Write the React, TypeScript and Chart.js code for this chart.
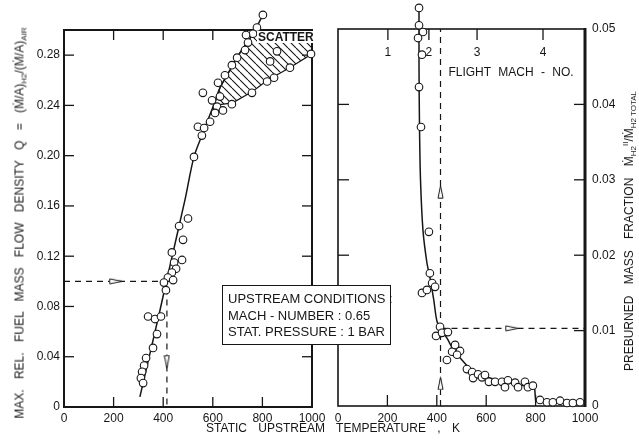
import React, { useEffect, useRef } from 'react';
import { Chart, registerables } from 'chart.js';

Chart.register(...registerables);

const FONT = '"Liberation Sans", Arial, sans-serif';
const INK = '#161616';

// ---- tick values / labels ----
const xTickValues = [0, 200, 400, 600, 800, 1000];
const xInnerTicks = [200, 400, 600, 800];
const leftYTickValues = [0, 0.04, 0.08, 0.12, 0.16, 0.2, 0.24, 0.28];
const leftYTickLabels = ['0', '0.04', '0.08', '0.12', '0.16', '0.20', '0.24', '0.28'];
const leftYInnerTicks = [0.04, 0.08, 0.12, 0.16, 0.2, 0.24, 0.28];
const leftYFrameMax = 0.3;
const rightYTickValues = [0, 0.01, 0.02, 0.03, 0.04, 0.05];
const rightYTickLabels = ['0', '0.01', '0.02', '0.03', '0.04', '0.05'];
const rightYInnerTicks = [0.01, 0.02, 0.03, 0.04];
const rightYFrameMax = 0.05;
const machTickTemps = [202, 368, 563, 830];
const machTickLabels = ['1', '2', '3', '4'];

// ---- left panel: max. rel. fuel mass flow density Q vs temperature ----
const leftPointsT = [802, 778, 762, 734, 742, 730, 859, 996, 698, 831, 911, 677, 649, 847, 819, 621, 758, 629, 560, 597, 677, 617, 641, 609, 589, 540, 565, 556, 524, 500, 464, 480, 435, 476, 444, 452, 435, 419, 440, 403, 411, 339, 367, 391, 375, 359, 331, 323, 315, 310, 319];
const leftPointsQ = [0.312, 0.302, 0.297, 0.296, 0.29, 0.284, 0.283, 0.281, 0.278, 0.275, 0.27, 0.272, 0.264, 0.262, 0.259, 0.258, 0.25, 0.247, 0.25, 0.244, 0.241, 0.239, 0.236, 0.234, 0.227, 0.223, 0.222, 0.216, 0.199, 0.15, 0.144, 0.133, 0.123, 0.117, 0.115, 0.11, 0.107, 0.103, 0.101, 0.099, 0.093, 0.072, 0.07, 0.072, 0.058, 0.047, 0.039, 0.033, 0.028, 0.023, 0.019];
const leftCurveT = [306, 387, 413, 488, 524, 560, 601, 629, 669, 710, 762, 802];
const leftCurveQ = [0.008, 0.077, 0.1, 0.165, 0.199, 0.218, 0.239, 0.254, 0.268, 0.282, 0.297, 0.312];
const scatterBandT = [605, 680, 760, 820, 910, 1000, 1000, 772, 762, 710, 669, 629, 605];
const scatterBandQ = [0.24, 0.242, 0.251, 0.26, 0.27, 0.281, 0.3, 0.3, 0.297, 0.282, 0.268, 0.254, 0.24];
const leftGuideT = [0, 415, 415];
const leftGuideQ = [0.1, 0.1, 0];
const leftArrowRightT = [209];
const leftArrowRightQ = [0.1];
const leftArrowDownT = [415];
const leftArrowDownQ = [0.036];

// ---- right panel: preburned mass fraction vs temperature ----
const rightPointsT = [328, 328, 344, 324, 340, 328, 336, 368, 372, 340, 360, 381, 393, 413, 397, 421, 445, 441, 462, 474, 494, 482, 522, 543, 547, 567, 583, 595, 611, 636, 664, 688, 676, 717, 729, 757, 769, 789, 818, 846, 870, 899, 927, 951, 980];
const rightPointsF = [0.0528, 0.0505, 0.0496, 0.0488, 0.0466, 0.0423, 0.037, 0.0231, 0.0176, 0.015, 0.0154, 0.0163, 0.0158, 0.0105, 0.0093, 0.0097, 0.0098, 0.0061, 0.0072, 0.0081, 0.0073, 0.0068, 0.0049, 0.0045, 0.0037, 0.0042, 0.0038, 0.0041, 0.0032, 0.0032, 0.0032, 0.0034, 0.0025, 0.0031, 0.0025, 0.0032, 0.0025, 0.0027, 0.0008, 0.0005, 0.0005, 0.0007, 0.0004, 0.0004, 0.0005];
const rightCurveT = [328, 328, 330, 334, 344, 360, 372, 388, 401, 420, 441, 465, 494, 547, 600, 656, 720, 796];
const rightCurveF = [0.0528, 0.045, 0.037, 0.03, 0.0233, 0.019, 0.0171, 0.014, 0.0112, 0.01, 0.009, 0.0076, 0.0064, 0.0046, 0.0039, 0.0034, 0.0029, 0.0024];
const rightTailT = [796, 800, 1000];
const rightTailF = [0.0024, 0.0008, 0.0007];
const rightGuideVT = [415, 415];
const rightGuideVF = [0, 0.05];
const rightGuideHT = [415, 1000];
const rightGuideHF = [0.0103, 0.0103];
const rightArrowUpT = [415, 415];
const rightArrowUpF = [0.0284, 0.003];
const rightArrowRightT = [704];
const rightArrowRightF = [0.0103];

const pts = (xs: number[], ys: number[]) => xs.map((x, i) => ({ x, y: ys[i] }));

function makeHatch(): HTMLCanvasElement {
  const s = 8;
  const c = document.createElement('canvas');
  c.width = s;
  c.height = s;
  const g = c.getContext('2d')!;
  g.strokeStyle = INK;
  g.lineWidth = 1.1;
  g.beginPath();
  for (const o of [-s, 0, s]) {
    g.moveTo(o, 0);
    g.lineTo(o + s, s);
  }
  g.stroke();
  return c;
}

function makeArrow(): HTMLCanvasElement {
  const c = document.createElement('canvas');
  c.width = 7;
  c.height = 14;
  const g = c.getContext('2d')!;
  g.beginPath();
  g.moveTo(3.5, 0.8);
  g.lineTo(6, 13.2);
  g.lineTo(1, 13.2);
  g.closePath();
  g.fillStyle = '#fff';
  g.fill();
  g.strokeStyle = INK;
  g.lineWidth = 1;
  g.stroke();
  return c;
}

const paperAxes = {
  id: 'paperAxes',
  beforeDatasetsDraw(chart: any, _args: any, opts: any) {
    const { ctx, chartArea } = chart;
    const { left, right, bottom } = chartArea;
    const xs = chart.scales.x;
    const ys = chart.scales.y;
    const top = ys.getPixelForValue(opts.frameMax);
    const L = opts.tickLen || 11;
    const line = (a: number, b: number, c: number, d: number) => {
      ctx.beginPath();
      ctx.moveTo(a, b);
      ctx.lineTo(c, d);
      ctx.stroke();
    };
    ctx.save();
    ctx.strokeStyle = INK;
    ctx.lineWidth = opts.frameWidth || 1.8;
    ctx.strokeRect(left, top, right - left, bottom - top);
    if (opts.rightWidth) {
      ctx.lineWidth = opts.rightWidth;
      line(right, top - 1, right, bottom + 1);
    }
    ctx.lineWidth = 1.3;
    (opts.xBottom || []).forEach((v: number) => {
      const p = xs.getPixelForValue(v);
      line(p, bottom, p, bottom - L);
    });
    (opts.xTop || []).forEach((v: number) => {
      const p = xs.getPixelForValue(v);
      line(p, top, p, top + L);
    });
    (opts.yLeft || []).forEach((v: number) => {
      const p = ys.getPixelForValue(v);
      line(left, p, left + L, p);
    });
    (opts.yRight || []).forEach((v: number) => {
      const p = ys.getPixelForValue(v);
      line(right, p, right - L, p);
    });
    if (opts.machTemps) {
      ctx.fillStyle = INK;
      ctx.font = '12px ' + FONT;
      ctx.textAlign = 'center';
      ctx.textBaseline = 'middle';
      opts.machTemps.forEach((v: number, i: number) => {
        const p = xs.getPixelForValue(v);
        line(p, top, p, top + L);
        ctx.fillText(opts.machLabels[i], p, top + 24);
      });
    }
    ctx.restore();
  },
};

const tickFont = { family: FONT, size: 12 };

function pointSet(data: any[]) {
  return {
    data,
    showLine: false,
    pointStyle: 'circle',
    pointRadius: 3.8,
    pointBorderWidth: 1.1,
    pointBackgroundColor: '#fff',
    pointBorderColor: INK,
    clip: false,
  };
}
function lineSet(data: any[], tension: number, extra: any = {}) {
  return {
    data,
    showLine: true,
    pointRadius: 0,
    borderColor: INK,
    borderWidth: 1.5,
    tension,
    clip: false,
    ...extra,
  };
}
function arrowSet(data: any[], img: HTMLCanvasElement, rot: number) {
  return {
    data,
    showLine: false,
    pointStyle: img,
    pointRotation: rot,
    pointRadius: 2,
    pointBorderWidth: 0,
    clip: false,
  };
}

export default function App() {
  const leftRef = useRef<HTMLCanvasElement>(null);
  const rightRef = useRef<HTMLCanvasElement>(null);

  useEffect(() => {
    const hatchTile = makeHatch();
    const arrow = makeArrow();
    const lctx = leftRef.current!.getContext('2d')!;
    const hatch = lctx.createPattern(hatchTile, 'repeat');

    const common = {
      responsive: false,
      animation: false,
      events: [],
    };

    // left: 0 at y=407, 0.30 at y=30  -> axis max 0.316 puts chart top at ~10
    const leftMax = 0.316;
    const leftTop = 407 - leftMax * (377 / 0.3);
    // right: 0 at y=406, 0.05 at y=29 -> axis max 0.053 puts chart top at ~6
    const rightMax = 0.053;
    const rightTop = 406 - rightMax * (377 / 0.05);

    const c1 = new Chart(leftRef.current!, {
      type: 'scatter',
      data: {
        datasets: [
          pointSet(pts(leftPointsT, leftPointsQ)),
          arrowSet(pts(leftArrowRightT, leftArrowRightQ), arrow, 90),
          arrowSet(pts(leftArrowDownT, leftArrowDownQ), arrow, 180),
          lineSet(pts(leftCurveT, leftCurveQ), 0.3),
          lineSet(pts(leftGuideT, leftGuideQ), 0, { borderDash: [6, 5], borderWidth: 1.2 }),
          lineSet(pts(scatterBandT, scatterBandQ), 0, {
            fill: 'shape',
            backgroundColor: hatch,
            borderWidth: 1.2,
          }),
        ] as any,
      },
      options: {
        ...common,
        layout: { padding: { left: 0, right: 18, top: leftTop, bottom: 0 } },
        plugins: {
          legend: { display: false },
          tooltip: { enabled: false },
          paperAxes: {
            frameMax: leftYFrameMax,
            frameWidth: 2,
            tickLen: 10,
            xBottom: xInnerTicks,
            xTop: xInnerTicks,
            yLeft: leftYInnerTicks,
            yRight: leftYInnerTicks,
          },
        } as any,
        scales: {
          x: {
            type: 'linear',
            min: 0,
            max: 1000,
            afterBuildTicks: (s: any) => {
              s.ticks = xTickValues.map((v) => ({ value: v }));
            },
            afterFit: (s: any) => {
              s.height = 36;
              s.paddingLeft = 0;
              s.paddingRight = 0;
            },
            ticks: { font: tickFont, color: INK, padding: 4, autoSkip: false, maxRotation: 0, callback: (v: any) => String(v) },
            grid: { display: false, drawTicks: false },
            border: { display: false },
          },
          y: {
            type: 'linear',
            min: 0,
            max: leftMax,
            afterBuildTicks: (s: any) => {
              s.ticks = leftYTickValues.map((v) => ({ value: v }));
            },
            afterFit: (s: any) => {
              s.width = 64;
              s.paddingTop = 0;
              s.paddingBottom = 0;
            },
            ticks: { font: tickFont, color: INK, padding: 4, autoSkip: false, callback: (_v: any, i: number) => leftYTickLabels[i] },
            grid: { display: false, drawTicks: false },
            border: { display: false },
          },
        } as any,
      },
      plugins: [paperAxes as any],
    });

    const c2 = new Chart(rightRef.current!, {
      type: 'scatter',
      data: {
        datasets: [
          pointSet(pts(rightPointsT, rightPointsF)),
          arrowSet(pts(rightArrowUpT, rightArrowUpF), arrow, 0),
          arrowSet(pts(rightArrowRightT, rightArrowRightF), arrow, 90),
          lineSet(pts(rightCurveT, rightCurveF), 0.3),
          lineSet(pts(rightTailT, rightTailF), 0),
          lineSet(pts(rightGuideVT, rightGuideVF), 0, { borderDash: [6, 5], borderWidth: 1.2 }),
          lineSet(pts(rightGuideHT, rightGuideHF), 0, { borderDash: [6, 5], borderWidth: 1.2 }),
        ] as any,
      },
      options: {
        ...common,
        layout: { padding: { left: 8, right: 0, top: rightTop, bottom: 0 } },
        plugins: {
          legend: { display: false },
          tooltip: { enabled: false },
          paperAxes: {
            frameMax: rightYFrameMax,
            frameWidth: 1.6,
            rightWidth: 3,
            tickLen: 11,
            xBottom: xInnerTicks,
            yLeft: rightYInnerTicks,
            yRight: rightYInnerTicks,
            machTemps: machTickTemps,
            machLabels: machTickLabels,
          },
        } as any,
        scales: {
          x: {
            type: 'linear',
            min: 0,
            max: 1000,
            afterBuildTicks: (s: any) => {
              s.ticks = xTickValues.map((v) => ({ value: v }));
            },
            afterFit: (s: any) => {
              s.height = 37;
              s.paddingLeft = 0;
              s.paddingRight = 0;
            },
            ticks: { font: tickFont, color: INK, padding: 5, autoSkip: false, maxRotation: 0, callback: (v: any) => String(v) },
            grid: { display: false, drawTicks: false },
            border: { display: false },
          },
          y: {
            type: 'linear',
            position: 'right',
            min: 0,
            max: rightMax,
            afterBuildTicks: (s: any) => {
              s.ticks = rightYTickValues.map((v) => ({ value: v }));
            },
            afterFit: (s: any) => {
              s.width = 54;
              s.paddingTop = 0;
              s.paddingBottom = 0;
            },
            ticks: { font: tickFont, color: INK, padding: 7, autoSkip: false, callback: (_v: any, i: number) => rightYTickLabels[i] },
            grid: { display: false, drawTicks: false },
            border: { display: false },
          },
        } as any,
      },
      plugins: [paperAxes as any],
    });

    return () => {
      c1.destroy();
      c2.destroy();
    };
  }, []);

  const abs: React.CSSProperties = { position: 'absolute', whiteSpace: 'nowrap' };
  const sub: React.CSSProperties = { fontSize: 8, verticalAlign: -3, wordSpacing: 0 };
  const sup: React.CSSProperties = { fontSize: 8, verticalAlign: 5 };

  return (
    <div style={{ position: 'absolute', left: 0, top: 0, width: 639, height: 443, background: '#fff', color: INK, fontFamily: FONT, overflow: 'hidden' }}>
      <canvas ref={leftRef} width={330} height={443} style={{ position: 'absolute', left: 0, top: 0 }} />
      <canvas ref={rightRef} width={309} height={443} style={{ position: 'absolute', left: 330, top: 0 }} />

      {/* left y-axis title */}
      <div style={{ ...abs, left: 22, top: 223, transform: 'translate(-50%,-50%) rotate(-90deg)', fontSize: 12, wordSpacing: 7, lineHeight: '14px' }}>
        MAX. REL. FUEL MASS FLOW DENSITY Q = (Ṁ/A)<span style={sub}>H2</span>/(Ṁ/A)<span style={sub}>AIR</span>
      </div>

      {/* right y-axis title */}
      <div style={{ ...abs, left: 630, top: 231, transform: 'translate(-50%,-50%) rotate(-90deg)', fontSize: 12, wordSpacing: 8, lineHeight: '14px' }}>
        PREBURNED MASS FRACTION Ṁ<span style={sub}>H2</span><span style={sup}>II</span>/Ṁ<span style={sub}>H2 TOTAL</span>
      </div>

      {/* shared x-axis title */}
      <div style={{ ...abs, left: 333, top: 428, transform: 'translate(-50%,-50%)', fontSize: 12, wordSpacing: 8 }}>
        STATIC UPSTREAM TEMPERATURE , K
      </div>

      {/* SCATTER label */}
      <div style={{ ...abs, left: 257, top: 31, fontSize: 12, lineHeight: '12px', background: '#fff', padding: '0 1px', fontWeight: 'bold' }}>
        SCATTER
      </div>

      {/* flight Mach number label */}
      <div style={{ ...abs, left: 511, top: 72, transform: 'translate(-50%,-50%)', fontSize: 12, wordSpacing: 4 }}>
        FLIGHT MACH - NO.
      </div>

      {/* upstream conditions box */}
      <div style={{ position: 'absolute', left: 222, top: 285, width: 169, height: 60, boxSizing: 'border-box', border: `1.5px solid ${INK}`, background: '#fff', padding: '5px 0 0 5px', fontSize: 13, lineHeight: '16.5px', whiteSpace: 'nowrap' }}>
        <div>UPSTREAM CONDITIONS :</div>
        <div>MACH - NUMBER : 0.65</div>
        <div>STAT. PRESSURE : 1 BAR</div>
      </div>
    </div>
  );
}
